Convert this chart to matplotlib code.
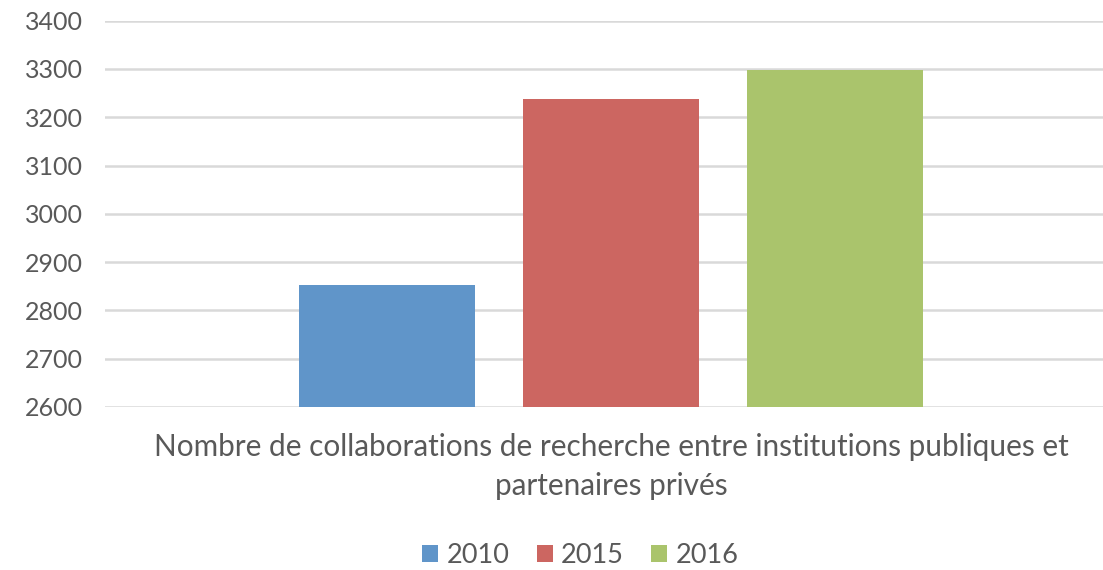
import matplotlib.pyplot as plt
import numpy as np

plt.rcParams['font.family'] = ['Lato', 'DejaVu Sans']

years = ["2010", "2015", "2016"]
values = [2853, 3238, 3298]
colors = ["#6095C9", "#CC6661", "#AAC46C"]
category = "Nombre de collaborations de recherche entre institutions publiques et\npartenaires privés"
yticks = [2600, 2700, 2800, 2900, 3000, 3100, 3200, 3300, 3400]

fig = plt.figure(figsize=(11.03, 5.70), dpi=100)
ax = fig.add_axes([0.0952, 0.286, 0.9048, 0.6777])

width = 0.1764
offsets = np.array([-1, 0, 1]) * 0.2244
for off, val, col, lab in zip(offsets, values, colors, years):
    ax.bar(off, val - 2600, bottom=2600, width=width, color=col, label=lab, zorder=3)

shift = 0.007
ax.set_xlim(-0.5 - shift, 0.5 - shift)
ax.set_ylim(2600, 3400)
ax.set_yticks(yticks)
ax.set_yticklabels([str(t) for t in yticks], fontsize=18, color="#595959")
ax.yaxis.grid(True, color="#D9D9D9", linewidth=1.8, zorder=0)
ax.set_xticks([0])
ax.set_xticklabels([category], fontsize=21.4, color="#595959", linespacing=1.45)
ax.tick_params(axis='both', length=0)
ax.tick_params(axis='y', pad=16)
ax.tick_params(axis='x', pad=19)
for s in ax.spines.values():
    s.set_visible(False)

fig.legend(loc='lower center', bbox_to_anchor=(0.526, -0.04), ncol=3, frameon=False,
           fontsize=19.5, labelcolor="#595959", handlelength=0.6, handleheight=0.6,
           handletextpad=0.3, columnspacing=1.0)

fig.savefig("out.png", dpi=100)
